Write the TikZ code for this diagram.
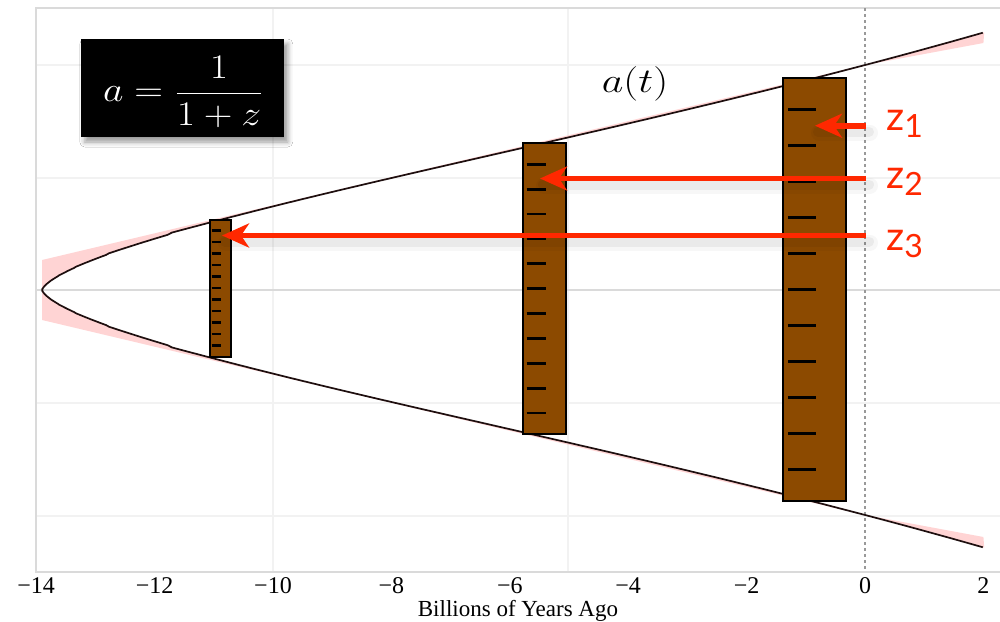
\documentclass[tikz,border=0pt]{standalone}
\usepackage{fontspec}
\usepackage{graphicx}
\usetikzlibrary{arrows.meta,shadows.blur}
\newfontfamily\tms{Liberation Serif}
\newfontfamily\gill{Lato}
\definecolor{zred}{RGB}{255,40,0}
\definecolor{rbrown}{RGB}{140,74,0}
\definecolor{bandpink}{RGB}{255,212,212}
\definecolor{gridc}{RGB}{242,242,242}
\definecolor{axisc}{RGB}{218,218,218}
\definecolor{curvec}{RGB}{30,15,15}
\begin{document}
\begin{tikzpicture}[x=0.5pt,y=-0.5pt,
  declare function={kt(\s)=0.08704*\s*\s*\s;
    sh(\x)=\x*(1+\x*\x/6+\x*\x*\x*\x/120+\x*\x*\x*\x*\x*\x/5040);
    aa(\s)=pow(sh(kt(\s))/1.5275,0.666667);
    X(\s)=865+59.2*(\s*\s*\s-13.9);},
  ruler/.style={draw=black, line width=1pt, fill=rbrown, inner sep=0pt},
  tickm/.style={line width=1.4pt, black},
  zarrow/.style={draw=zred, line width=2.9pt, -{Stealth[length=13.5pt,width=12pt,inset=4pt]}},
  zshadow/.style={draw=black, line cap=round},
  zlab/.style={text=zred, font=\gill\fontsize{20}{20}\selectfont, anchor=base west, inner sep=0pt},
  zsub/.style={},
  ticklab/.style={font=\tms\fontsize{12}{12}\selectfont, anchor=base, inner sep=0pt},
  gridl/.style={draw=gridc, line width=0.6pt},
  curve/.style={draw=curvec, line width=0.85pt},
  ]
\useasboundingbox (0,0) rectangle (1000,621);
\fill[white] (0,0) rectangle (1000,621);
% grid
\foreach \yy in {65,178,403,516} \draw[gridl] (36,\yy) -- (1000,\yy);
\foreach \xx in {273,568} \draw[gridl] (\xx,8) -- (\xx,572);
\draw[axisc, line width=0.7pt] (36,290) -- (1000,290);
\draw[axisc, line width=0.7pt] (1000,8) -- (36,8) -- (36,572) -- (1000,572);
% pink band
\fill[bandpink] (42.1,260) -- (865,65) -- (983.4,43)
  -- plot[domain=2.5153:0.1, samples=140, variable=\s] ({X(\s)},{290-225*aa(\s)}) -- (42.1,290) -- cycle;
\fill[bandpink] (42.1,320) -- (865,515) -- (983.4,537)
  -- plot[domain=2.5153:0.1, samples=140, variable=\s] ({X(\s)},{290+225*aa(\s)}) -- (42.1,290) -- cycle;
% zero line
\draw[draw=black!40, dash pattern=on 1.5pt off 1.5pt, line width=0.7pt] (865,8) -- (865,572);
% curve a(t)
\draw[curve] (42.1,290) -- plot[domain=0.1:2.5153, samples=160, variable=\s] ({X(\s)},{290-225*aa(\s)});
\draw[curve] (42.1,290) -- plot[domain=0.1:2.5153, samples=160, variable=\s] ({X(\s)},{290+225*aa(\s)});
% rulers
\node[ruler, minimum width=10.35pt, minimum height=68.5pt] (r1) at (220.35,288.5) {};
\node[ruler, minimum width=21.35pt, minimum height=145.35pt] (r2) at (544.35,288.65) {};
\node[ruler, minimum width=31.2pt, minimum height=211.2pt] (r3) at (814.5,289.5) {};
\foreach \i in {0,...,10} \draw[tickm, line width=1.25pt] (211.7,230.7+11.5*\i) -- (221,230.7+11.5*\i);
\foreach \i in {0,...,10} \draw[tickm] (526.7,164.3+24.87*\i) -- (546,164.3+24.87*\i);
\foreach \i in {0,...,10} \draw[tickm, line width=1.5pt] (788.3,109+36*\i) -- (815.7,109+36*\i);
% arrows
\coordinate (s1) at (866,125.7); \coordinate (t1) at (815,125.7);
\coordinate (s2) at (866,178.5); \coordinate (t2) at (540,178.5);
\coordinate (s3) at (866,235.5); \coordinate (t3) at (222,235.5);
\foreach \a/\b in {s1/t1,s2/t2,s3/t3}{
  \draw[zshadow, opacity=0.03, line width=8pt] ([shift={(4,7)}]\a) -- ([shift={(4,7)}]\b);
  \draw[zshadow, opacity=0.05, line width=5pt] ([shift={(3,6)}]\a) -- ([shift={(3,6)}]\b);
}
\draw[zarrow] (s1) -- (t1);
\draw[zarrow] (s2) -- (t2);
\draw[zarrow] (s3) -- (t3);
% z labels
\node[zlab] (z1) at (886,130) {z\raisebox{-3.5pt}{\fontsize{16}{16}\selectfont 1}};
\node[zlab] (z2) at (886,188) {z\raisebox{-3.5pt}{\fontsize{16}{16}\selectfont 2}};
\node[zlab] (z3) at (886,250) {z\raisebox{-3.5pt}{\fontsize{16}{16}\selectfont 3}};
% formula box
\node[fill=black, minimum width=101.5pt, minimum height=49pt, inner sep=0pt,
  blur shadow={shadow xshift=2pt, shadow yshift=-2.5pt, shadow blur radius=2.5pt, shadow opacity=40}] (fbox) at (182.3,88) {};
\node[text=white, anchor=base, inner sep=0pt] (formula) at (183.5,101.7)
  {\fontsize{17.5}{20}\selectfont\scalebox{1.15}[1]{$\displaystyle a=\frac{1}{1+z}$}};
% a(t) label
\node[anchor=base, inner sep=0pt] (alab) at (635,92.5) {\fontsize{16.5}{20}\selectfont\scalebox{1.22}[1]{$a(t)$}};
% tick labels
\foreach \t/\lab in {-14/−14,-12/−12,-10/−10,-8/−8,-6/−6,-4/−4,-2/−2,0/0,2/2}
  \node[ticklab] (tl\t) at ({865+59.2*\t},593) {\lab};
\node[font=\tms\fontsize{11.5}{12}\selectfont, anchor=base, inner sep=0pt] (xtitle) at (518,616) {Billions of Years Ago};
\end{tikzpicture}
\end{document}
